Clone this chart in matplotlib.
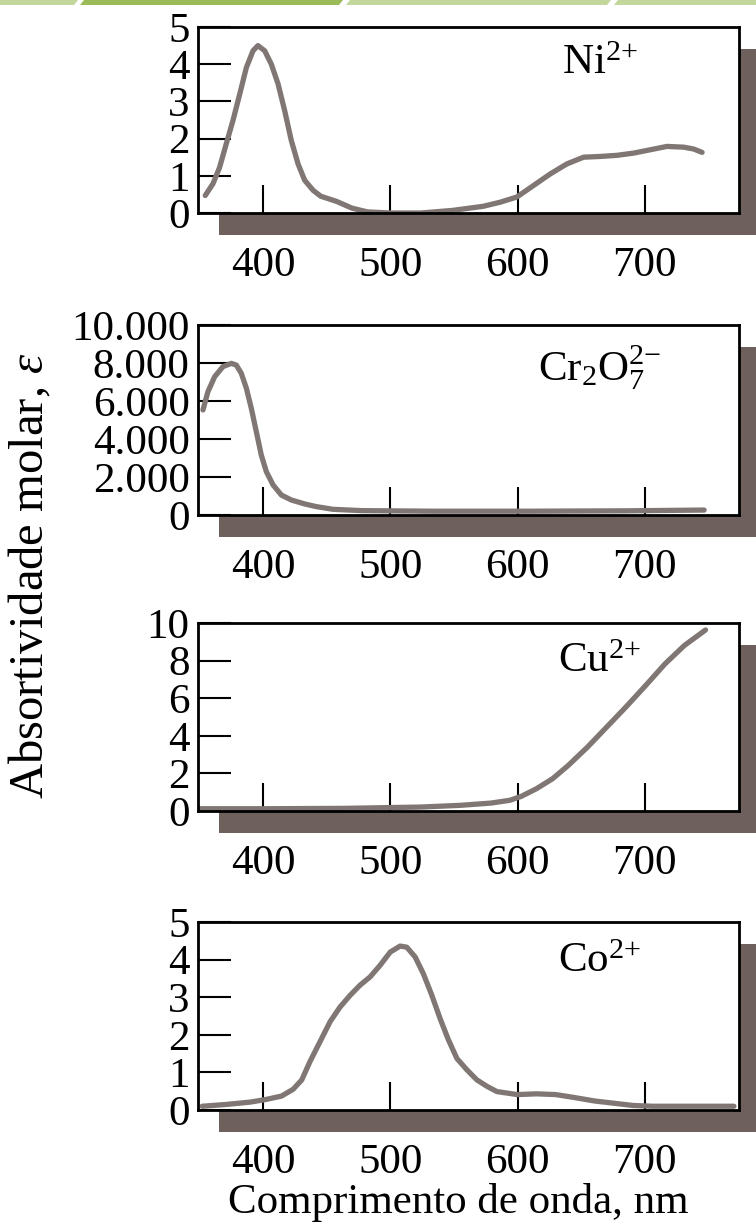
"""
Absorption spectra of four coloured ions, stacked in the textbook style:
boxed panels with a drop shadow, inward ticks and serif type.
"""

import matplotlib
matplotlib.use("Agg")
import matplotlib.pyplot as plt
from matplotlib.patches import Rectangle, Polygon


# ─────────────────────────────────────────────────────────────────────────────
# Data
# ─────────────────────────────────────────────────────────────────────────────

ni_nm = [354.7, 360.8, 366, 371.2, 376.5, 381.8, 387, 392.2, 396.1, 401.4,
         406.6, 411.9, 417.1, 422.3, 427.6, 432.8, 439.4, 445.5, 458, 470,
         482, 500, 524, 549, 573, 586.4, 599.5, 612.6, 625.7, 638.8, 651.9,
         665, 678.1, 691.2, 704.3, 717.4, 730.5, 738.4, 745]
ni_eps = [0.47, 0.79, 1.23, 1.86, 2.49, 3.2, 3.91, 4.36, 4.5, 4.36,
          4.0, 3.47, 2.75, 1.95, 1.32, 0.88, 0.61, 0.45, 0.31, 0.13,
          0.03, 0.0, 0.0, 0.07, 0.18, 0.29, 0.43, 0.74, 1.05, 1.32, 1.5,
          1.52, 1.55, 1.61, 1.7, 1.79, 1.77, 1.72, 1.63]

cr_nm = [352.9, 356.8, 362.1, 368.6, 375.2, 379.1, 383, 387, 390.9, 394.8,
         398.7, 402.7, 408, 414.5, 422.3, 432.9, 442, 455, 477.7, 534, 610,
         686, 746.6]
cr_eps = [5530, 6490, 7280, 7810, 7980, 7890, 7460, 6670, 5610, 4390,
          3160, 2280, 1580, 1050, 790, 580, 440, 300, 230, 200, 200,
          220, 260]

cu_nm = [350.7, 402, 463, 524, 554.6, 579, 594, 603, 615, 627.6, 639.8, 655,
         670, 685, 700.6, 715.8, 731, 747.7]
cu_eps = [0.12, 0.12, 0.14, 0.21, 0.3, 0.42, 0.57, 0.78, 1.19, 1.72, 2.42, 3.4,
          4.46, 5.52, 6.67, 7.82, 8.8, 9.63]

co_nm = [352.3, 372, 390, 402.4, 414.6, 423.7, 430.5, 437, 444.9, 452.8,
         460.6, 468.5, 476.3, 484.2, 492.1, 500, 507.8, 513, 519.6, 526.1,
         532.7, 539.2, 545.8, 552.4, 560.2, 568.1, 576, 583.8, 599.8, 615,
         630, 645, 660.5, 675.7, 690.8, 706, 736.4, 770]
co_eps = [0.1, 0.15, 0.21, 0.28, 0.37, 0.55, 0.8, 1.29, 1.82, 2.35,
          2.74, 3.05, 3.32, 3.54, 3.85, 4.2, 4.36, 4.33, 4.07, 3.62,
          3.05, 2.43, 1.86, 1.37, 1.07, 0.8, 0.63, 0.49, 0.41, 0.43,
          0.41, 0.33, 0.24, 0.18, 0.12, 0.1, 0.1, 0.1]

ion_labels = [r"Ni$^{2{+}}$", r"Cr$_2$O$_7^{2{-}}$", r"Cu$^{2{+}}$",
              r"Co$^{2{+}}$"]

x_ticks = [400, 500, 600, 700]
y_ticks = [[0, 1, 2, 3, 4, 5],
           [0, 2000, 4000, 6000, 8000, 10000],
           [0, 2, 4, 6, 8, 10],
           [0, 1, 2, 3, 4, 5]]
y_ticklabels = [["0", "1", "2", "3", "4", "5"],
                ["0", "2.000", "4.000", "6.000", "8.000", "10.000"],
                ["0", "2", "4", "6", "8", "10"],
                ["0", "1", "2", "3", "4", "5"]]


# ─────────────────────────────────────────────────────────────────────────────
# Styling
# ─────────────────────────────────────────────────────────────────────────────

plt.rcParams["font.family"] = ["Liberation Serif", "DejaVu Serif"]
plt.rcParams["mathtext.fontset"] = "custom"
plt.rcParams["mathtext.rm"] = "Liberation Serif"
plt.rcParams["mathtext.it"] = "Liberation Serif:italic"

W, H = 756, 1222
FS = 31
curve_color = "#807775"
shadow_color = "#6e605d"

fig = plt.figure(figsize=(W / 100, H / 100), dpi=100)

# panel boxes in pixels: (left, top, right, bottom)
boxes = [(198, 27, 739, 213),
         (198, 325, 739, 515),
         (198, 623, 739, 811),
         (198, 922, 739, 1110)]
label_pos = [(600, 64), (600, 368), (600, 662), (600, 962)]

series = [(ni_nm, ni_eps), (cr_nm, cr_eps), (cu_nm, cu_eps), (co_nm, co_eps)]

for i, ((l, t, r, b), (xs, ys)) in enumerate(zip(boxes, series)):
    # drop shadow offset down and to the right
    fig.patches.append(Rectangle(((l + 21) / W, 1 - (b + 22) / H),
                                 (r - l) / W, (b - t) / H,
                                 transform=fig.transFigure,
                                 facecolor=shadow_color, edgecolor="none",
                                 zorder=-1))

    ax = fig.add_axes([l / W, 1 - b / H, (r - l) / W, (b - t) / H])
    ax.plot(xs, ys, color=curve_color, lw=3.8, solid_capstyle="round",
            solid_joinstyle="round")

    ax.set_xlim(349, 774)
    ax.set_ylim(y_ticks[i][0], y_ticks[i][-1])
    ax.set_xticks(x_ticks)
    ax.set_xticklabels([str(v) for v in x_ticks])
    ax.set_yticks(y_ticks[i])
    ax.set_yticklabels(y_ticklabels[i])

    ax.tick_params(axis="x", direction="in", length=20, width=1.5,
                   pad=24, labelsize=FS)
    ax.tick_params(axis="y", direction="in", length=24, width=1.5,
                   pad=6, labelsize=FS)
    for sp in ax.spines.values():
        sp.set_linewidth(2)

    lx, ly = label_pos[i]
    fig.text(lx / W, 1 - ly / H, ion_labels[i], fontsize=FS,
             ha="center", va="center")

fig.text(30 / W, 1 - 576 / H, r"Absortividade molar, $\varepsilon$",
         rotation=90, fontsize=35, ha="center", va="center")
fig.text(458 / W, 1 - 1203 / H, "Comprimento de onda, nm",
         fontsize=FS, ha="center", va="center")

# green slide band along the top edge
band = [((0, 0), (78, 0), (74, 5), (0, 5), "#c3d69b"),
        ((84, 0), (343, 0), (339, 5), (80, 5), "#9bbb59"),
        ((350, 0), (611, 0), (607, 5), (346, 5), "#c3d69b"),
        ((618, 0), (756, 0), (756, 5), (614, 5), "#c3d69b")]
for *pts, c in band:
    fig.patches.append(Polygon([(px / W, 1 - py / H) for px, py in pts],
                               closed=True, transform=fig.transFigure,
                               facecolor=c, edgecolor="none"))

plt.savefig("out.png", dpi=100)
